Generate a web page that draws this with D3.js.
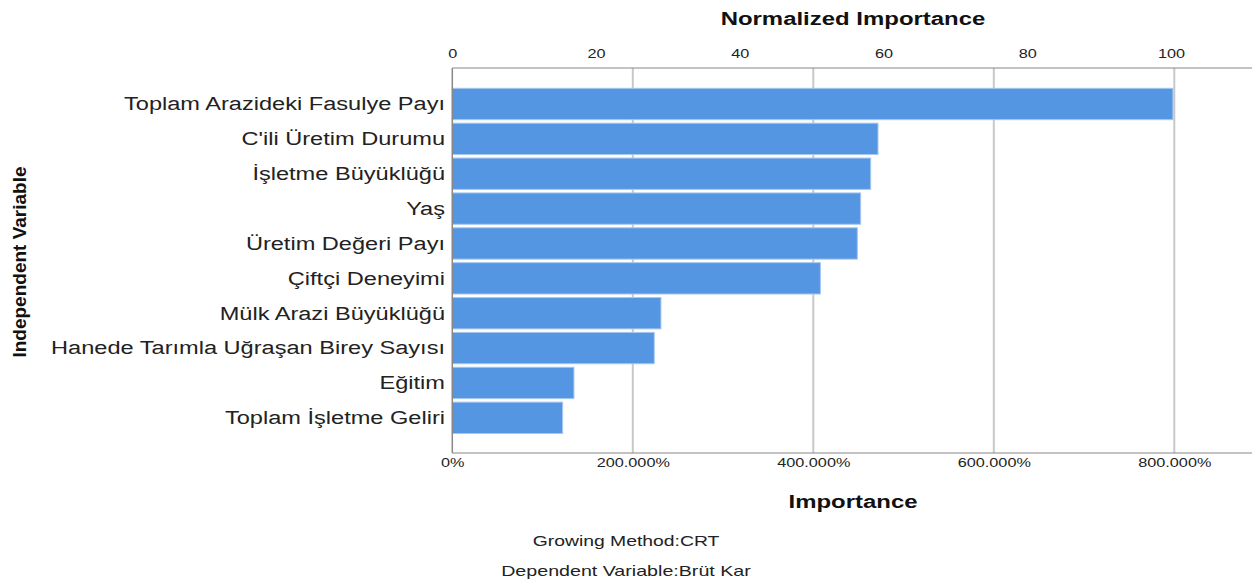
<!DOCTYPE html>
<html><head><meta charset="utf-8">
<script src="https://cdn.jsdelivr.net/npm/d3@7"></script>
<style>body{margin:0;background:#fff;} svg{display:block;font-family:"Liberation Sans",Arial,sans-serif;}</style>
</head><body><svg id="c" width="1252" height="583"></svg>
<script>
const categories = ["Toplam Arazideki Fasulye Payı","C'ili Üretim Durumu","İşletme Büyüklüğü","Yaş","Üretim Değeri Payı","Çiftçi Deneyimi","Mülk Arazi Büyüklüğü","Hanede Tarımla Uğraşan Birey Sayısı","Eğitim","Toplam İşletme Geliri"];
const importance = [798.5, 471.7, 463.6, 452.5, 448.8, 407.9, 231.2, 223.8, 134.8, 122.3];
const bottomTicks = [0, 200, 400, 600, 800];
const topTicks = [0, 20, 40, 60, 80, 100];
const maxImp = d3.max(importance);

const svg = d3.select("#c");
const plotLeft = 452.3, plotTop = 68, plotBottom = 453;
const x = d3.scaleLinear().domain([0, 800]).range([plotLeft, plotLeft + 800 * 0.9025]);
const xn = d3.scaleLinear().domain([0, 100]).range([x(0), x(maxImp) - 2]);
const y = d3.scaleBand().domain(categories).range([88.3, 433.5]).paddingInner(0.1);

// grid
svg.append("g").selectAll("line").data(bottomTicks.filter(d => d > 0)).join("line")
  .attr("x1", d => x(d)).attr("x2", d => x(d)).attr("y1", plotTop).attr("y2", plotBottom)
  .attr("stroke", "#c8c8c8").attr("stroke-width", 2);

// bars
svg.append("g").selectAll("rect").data(importance).join("rect")
  .attr("x", x(0)).attr("y", (d, i) => y(categories[i]))
  .attr("width", d => x(d) - x(0)).attr("height", y.bandwidth())
  .attr("fill", "#5596e3").attr("stroke", "#a9c8f0").attr("stroke-width", 1);

// frame
svg.append("line").attr("x1", plotLeft).attr("x2", 1260).attr("y1", plotTop).attr("y2", plotTop).attr("stroke", "#888").attr("stroke-width", 1.2);
svg.append("line").attr("x1", plotLeft).attr("x2", 1260).attr("y1", plotBottom).attr("y2", plotBottom).attr("stroke", "#888").attr("stroke-width", 1.2);
svg.append("line").attr("x1", plotLeft).attr("x2", plotLeft).attr("y1", plotTop).attr("y2", plotBottom).attr("stroke", "#888").attr("stroke-width", 1.5);

// top axis
const topAxis = d3.axisTop(xn).tickValues(topTicks).tickSize(0).tickPadding(0);
const gt = svg.append("g").attr("transform", `translate(0,58)`).call(topAxis);
gt.select(".domain").remove();
gt.selectAll("text").attr("font-size", 13).attr("fill", "#222").attr("font-family", "Liberation Sans, Arial, sans-serif").attr("transform", "scale(1.25,1)");

// bottom axis
const fmt = d => d === 0 ? "0%" : d3.format(".3f")(d) + "%";
const bAxis = d3.axisBottom(x).tickValues(bottomTicks).tickFormat(fmt).tickSize(0).tickPadding(0);
const gb = svg.append("g").attr("transform", `translate(0,458)`).call(bAxis);
gb.select(".domain").remove();
gb.selectAll("text").attr("font-size", 13).attr("fill", "#222").attr("font-family", "Liberation Sans, Arial, sans-serif").attr("transform", "scale(1.25,1)");

// category labels
svg.append("g").selectAll("text").data(categories).join("text")
  .attr("transform", d => `translate(445,${y(d) + y.bandwidth() / 2}) scale(1.31,1)`).attr("dy", "0.35em")
  .attr("text-anchor", "end").attr("font-size", 18).attr("fill", "#222").text(d => d);

// titles
function hText(xp, yp, sx, size, weight, txt) {
  svg.append("text").attr("transform", `translate(${xp},${yp}) scale(${sx},1)`).attr("text-anchor", "middle")
    .attr("font-size", size).attr("font-weight", weight).attr("fill", weight === "bold" ? "#111" : "#222").text(txt);
}
hText(853, 25, 1.26, 19, "bold", "Normalized Importance");
hText(853, 508, 1.26, 19, "bold", "Importance");
svg.append("text").attr("transform", "translate(26,262) rotate(-90)").attr("text-anchor", "middle").attr("font-size", 19).attr("font-weight", "bold").attr("fill", "#111").text("Independent Variable");
hText(626, 546, 1.29, 15, "normal", "Growing Method:CRT");
hText(626, 576, 1.31, 15, "normal", "Dependent Variable:Brüt Kar");
</script></body></html>
